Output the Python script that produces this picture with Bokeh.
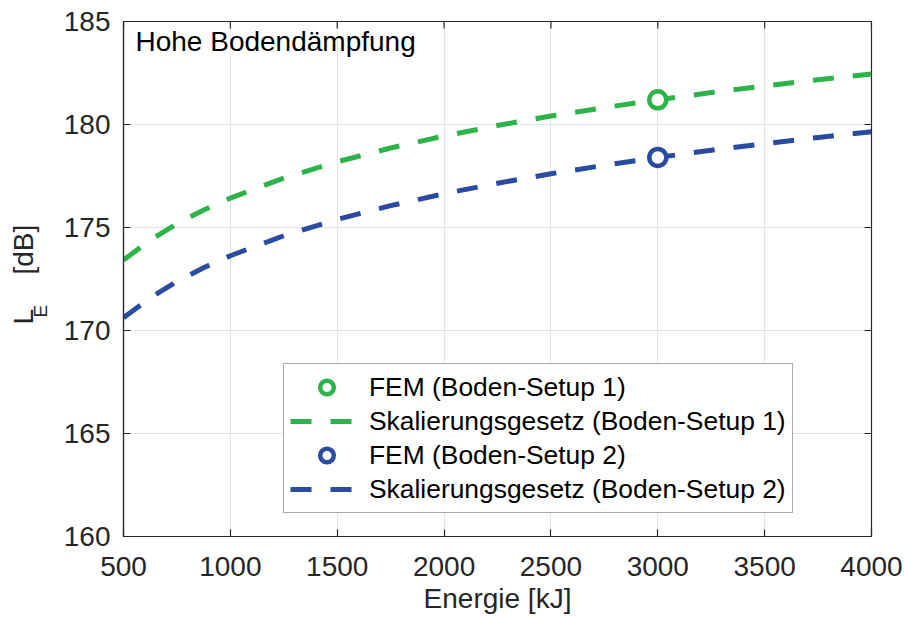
import math
from bokeh.plotting import figure
from bokeh.layouts import row
from bokeh.models import Range1d, FixedTicker, Legend, LegendItem, Label
from bokeh.core.properties import value
from bokeh.embed import file_html
from bokeh.resources import INLINE

# ---- data ----
energy = [500, 625, 750, 875, 1000, 1250, 1500, 1750, 2000, 2250, 2500,
          2750, 3000, 3250, 3500, 3750, 4000]
scal_setup1 = [173.42, 174.39, 175.18, 175.85, 176.43, 177.40, 178.19, 178.86,
               179.44, 179.95, 180.41, 180.82, 181.20, 181.55, 181.87, 182.17, 182.45]
scal_setup2 = [170.62, 171.59, 172.38, 173.05, 173.63, 174.60, 175.39, 176.06,
               176.64, 177.15, 177.61, 178.02, 178.40, 178.75, 179.07, 179.37, 179.65]
fem_energy = [3000]
fem_setup1 = [181.2]
fem_setup2 = [178.4]
x_ticks = [500, 1000, 1500, 2000, 2500, 3000, 3500, 4000]
y_ticks = [160, 165, 170, 175, 180, 185]
x_lim = (500, 4000)
y_lim = (160, 185)

labels = ["FEM (Boden-Setup 1)", "Skalierungsgesetz (Boden-Setup 1)",
          "FEM (Boden-Setup 2)", "Skalierungsgesetz (Boden-Setup 2)"]
panel_title = "Hohe Bodendämpfung"
x_title = "Energie [kJ]"
y_title_main, y_title_sub, y_title_unit = "L", "E", "[dB]"

GREEN = "#2db34a"
BLUE = "#2b4ba1"
AX = "#262626"
FONT = "Liberation Sans"

LEFT_W = 60
FRAME_TOP, FRAME_BOTTOM = 21, 536   # page pixels of the plot frame

# ---- narrow side figure that carries the y-axis title (with subscript) ----
# its frame is aligned with the main frame; the flipped range makes y = page pixel row
side = figure(width=LEFT_W, height=617, x_range=Range1d(0, LEFT_W),
              y_range=Range1d(FRAME_BOTTOM, FRAME_TOP),
              output_backend="svg", toolbar_location=None,
              min_border_left=0, min_border_right=0, min_border_top=0, min_border_bottom=0)
side.axis.visible = False
side.grid.visible = False
side.outline_line_color = None
side.background_fill_color = "white"
side.border_fill_color = "white"
side.text(x=[23], y=[324], text=[y_title_main], angle=math.pi / 2,
          text_font=value(FONT), text_font_size="28px", text_color=AX,
          text_baseline="alphabetic", text_align="left")
side.text(x=[40], y=[317], text=[y_title_sub], angle=math.pi / 2,
          text_font=value(FONT), text_font_size="19px", text_color=AX,
          text_baseline="alphabetic", text_align="left")
side.text(x=[23], y=[274], text=[y_title_unit], angle=math.pi / 2,
          text_font=value(FONT), text_font_size="28px", text_color=AX,
          text_baseline="alphabetic", text_align="left")

# ---- main figure ----
p = figure(width=904 - LEFT_W, height=617, x_range=Range1d(*x_lim), y_range=Range1d(*y_lim),
           output_backend="svg", toolbar_location=None,
           min_border_left=123 - LEFT_W, min_border_right=33, min_border_top=FRAME_TOP,
           min_border_bottom=617 - FRAME_BOTTOM)
p.background_fill_color = "white"
p.border_fill_color = "white"
p.outline_line_color = AX
p.outline_line_width = 1.2

for ax in (p.xaxis[0], p.yaxis[0]):
    ax.major_tick_in = 7
    ax.major_tick_out = 0
    ax.minor_tick_line_color = None
    ax.axis_line_color = AX
    ax.axis_line_width = 1.2
    ax.major_tick_line_color = AX
    ax.major_tick_line_width = 1.2
    ax.major_label_text_font = FONT
    ax.major_label_text_font_size = "28px"
    ax.major_label_text_color = AX
p.xaxis.ticker = FixedTicker(ticks=x_ticks)
p.yaxis.ticker = FixedTicker(ticks=y_ticks)
p.xaxis.major_label_standoff = 20
p.yaxis.major_label_standoff = 13
p.xaxis.axis_label = x_title
p.xaxis.axis_label_text_font = FONT
p.xaxis.axis_label_text_font_size = "28px"
p.xaxis.axis_label_text_font_style = "normal"
p.xaxis.axis_label_text_color = AX
p.xaxis.axis_label_standoff = 4

p.xgrid.ticker = FixedTicker(ticks=x_ticks)
p.ygrid.ticker = FixedTicker(ticks=y_ticks)
for g in (p.xgrid[0], p.ygrid[0]):
    g.grid_line_color = "#e4e4e4"
    g.grid_line_width = 1

# inward ticks on the top and right edges (half of each dash is clipped by the frame)
p.scatter(x_ticks, [y_lim[1]] * len(x_ticks), marker="dash", size=14, angle=math.pi / 2,
          line_color=AX, line_width=1.2)
p.scatter([x_lim[1]] * len(y_ticks), y_ticks, marker="dash", size=14,
          line_color=AX, line_width=1.2)

l1 = p.line(energy, scal_setup1, line_color=GREEN, line_width=5, line_dash="21 19")
l2 = p.line(energy, scal_setup2, line_color=BLUE, line_width=5, line_dash="21 19")
m1 = p.scatter(fem_energy, fem_setup1, marker="circle", size=17, line_color=GREEN,
               line_width=4.5, fill_color="white")
m2 = p.scatter(fem_energy, fem_setup2, marker="circle", size=17, line_color=BLUE,
               line_width=4.5, fill_color="white")

legend = Legend(items=[LegendItem(label=labels[0], renderers=[m1]),
                       LegendItem(label=labels[1], renderers=[l1]),
                       LegendItem(label=labels[2], renderers=[m2]),
                       LegendItem(label=labels[3], renderers=[l2])],
                location=(160, 23), padding=6, spacing=0, margin=0,
                glyph_width=73, glyph_height=34, label_height=34, label_standoff=6,
                label_text_font=FONT, label_text_font_size="26.4px", label_text_color="black",
                border_line_color="#555555", border_line_width=1.2,
                background_fill_color="white", background_fill_alpha=1)
p.add_layout(legend, "center")

p.add_layout(Label(x=12, y=495, x_units="screen", y_units="screen", text=panel_title,
                   text_font=FONT, text_font_size="28px", text_color="black",
                   text_baseline="alphabetic", text_align="left"))

layout = row(side, p, spacing=0)
open("out.html", "w").write(file_html(layout, INLINE))
